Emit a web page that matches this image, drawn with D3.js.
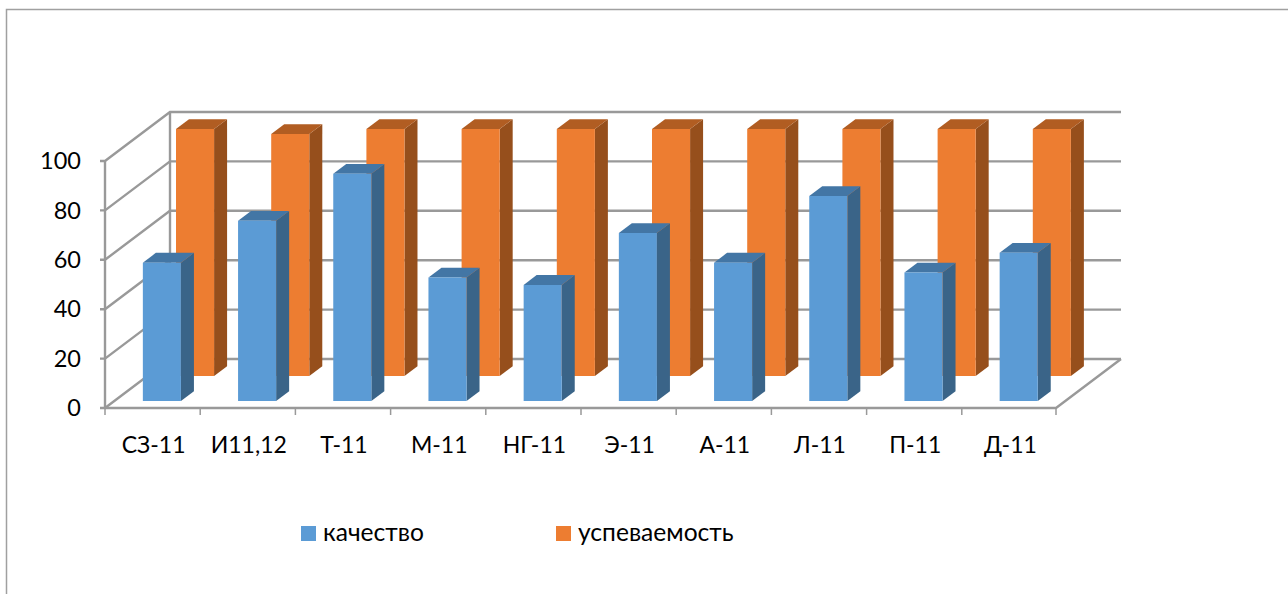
<!DOCTYPE html>
<html>
<head>
<meta charset="utf-8">
<script src="https://cdn.jsdelivr.net/npm/d3@7"></script>
<style>
  html, body { margin: 0; background: #fff; overflow: hidden; }
  text { font-family: "Lato", "Open Sans", sans-serif; fill: #000; }
</style>
</head>
<body>
<div id="chart"></div>
<script>
var categories = ["СЗ-11", "И11,12", "Т-11", "М-11", "НГ-11", "Э-11", "А-11", "Л-11", "П-11", "Д-11"]
var kachestvo = [56, 73, 92, 50, 47, 68, 56, 83, 52, 60]
var uspevaemost = [100, 98, 100, 100, 100, 100, 100, 100, 100, 100]
var yTicks = [0, 20, 40, 60, 80, 100]

var width = 1288, height = 594

var svg = d3.select("#chart").append("svg")
  .attr("width", width)
  .attr("height", height)
  .style("display", "block")

// frame, only top and left are inside the crop
svg.append("path")
  .attr("d", "M6.5,594 V9.5 H1288")
  .attr("fill", "none")
  .attr("stroke", "#a0a0a0")
  .attr("stroke-width", 1.5)

// front plane of the box
var x = d3.scaleBand().domain(categories).range([105, 1057]).paddingInner(0.6).paddingOuter(0.3)
var xStep = d3.scaleBand().domain(categories).range([105, 1057])
var y = d3.scaleLinear().domain([0, 100]).range([408, 161])
var depthX = d3.scaleLinear().domain([0, 1]).range([0, 65])
var depthY = d3.scaleLinear().domain([0, 1]).range([0, -49])

function pt(px, py, z) {
  return (px + depthX(z)) + "," + (py + depthY(z))
}
function poly(points) {
  return "M" + points.join("L") + "Z"
}

var grid = svg.append("g")
  .attr("fill", "none")
  .attr("stroke", "#999")
  .attr("stroke-width", 2.4)

grid.selectAll(".wall")
  .data(yTicks)
  .enter()
  .append("path")
  .attr("class", "wall")
  .attr("d", function(d) {
    return "M100," + y(d) + "L" + pt(105, y(d), 0) + "L" + pt(105, y(d), 1) + "L" + pt(1056, y(d), 1)
  })

grid.append("path").attr("d", "M" + pt(105, y(100), 0) + "L" + pt(105, y(0), 0))
grid.append("path").attr("d", "M" + pt(105, y(100), 1) + "L" + pt(105, y(0), 1))
grid.append("path").attr("d", "M" + pt(105, y(0), 0) + "L" + pt(1056, y(0), 0) + "L" + pt(1056, y(0), 1))

grid.selectAll(".tick")
  .data(categories.concat(["end"]))
  .enter()
  .append("line")
  .attr("class", "tick")
  .attr("stroke-width", 1.5)
  .attr("x1", function(d, i) { return Math.min(105 + i * xStep.step(), 1056) })
  .attr("x2", function(d, i) { return Math.min(105 + i * xStep.step(), 1056) })
  .attr("y1", y(0))
  .attr("y2", y(0) + 7)

// orange row goes first, it stands behind the blue one
var series = [
  { name: "успеваемость", values: uspevaemost, z: 0.653, front: "#ed7d31", top: "#b15d22", side: "#964f1c" },
  { name: "качество", values: kachestvo, z: 0.143, front: "#5b9bd5", top: "#4376a5", side: "#3a6488" }
]
var barDepth = 0.2

series.forEach(function(s) {
  var bars = svg.append("g").selectAll("g")
    .data(s.values)
    .enter()
    .append("g")

  function x0(i) { return x(categories[i]) }
  function x1(i) { return x0(i) + x.bandwidth() }

  bars.append("path")
    .attr("fill", s.side)
    .attr("d", function(d, i) {
      return poly([pt(x1(i), y(0), s.z), pt(x1(i), y(d), s.z), pt(x1(i), y(d), s.z + barDepth), pt(x1(i), y(0), s.z + barDepth)])
    })
  bars.append("path")
    .attr("fill", s.top)
    .attr("d", function(d, i) {
      return poly([pt(x0(i), y(d), s.z), pt(x1(i), y(d), s.z), pt(x1(i), y(d), s.z + barDepth), pt(x0(i), y(d), s.z + barDepth)])
    })
  bars.append("path")
    .attr("fill", s.front)
    .attr("d", function(d, i) {
      return poly([pt(x0(i), y(0), s.z), pt(x1(i), y(0), s.z), pt(x1(i), y(d), s.z), pt(x0(i), y(d), s.z)])
    })
})

svg.append("g").selectAll("text")
  .data(yTicks)
  .enter()
  .append("text")
  .attr("x", 81)
  .attr("y", function(d) { return y(d) })
  .attr("dy", ".35em")
  .attr("text-anchor", "end")
  .attr("font-size", 23.5)
  .text(function(d) { return d })

svg.append("g").selectAll("text")
  .data(categories)
  .enter()
  .append("text")
  .attr("x", function(d) { return xStep(d) + xStep.bandwidth() / 2 + 1 })
  .attr("y", 453)
  .attr("text-anchor", "middle")
  .attr("font-size", 23)
  .text(function(d) { return d })

var legend = [
  { name: "качество", color: "#5b9bd5", x: 301 },
  { name: "успеваемость", color: "#ed7d31", x: 556 }
]
var leg = svg.append("g").selectAll("g")
  .data(legend)
  .enter()
  .append("g")
  .attr("transform", function(d) { return "translate(" + d.x + ",526)" })
leg.append("rect")
  .attr("width", 15)
  .attr("height", 15)
  .attr("fill", function(d) { return d.color })
leg.append("text")
  .attr("x", 22)
  .attr("y", 15)
  .attr("font-size", 24.6)
  .text(function(d) { return d.name })
</script>
</body>
</html>
